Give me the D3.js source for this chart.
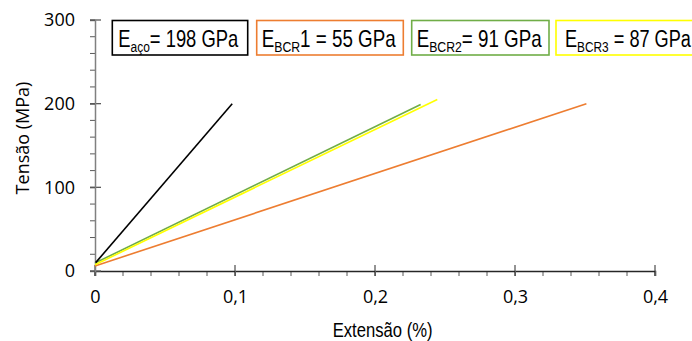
<!DOCTYPE html>
<html><head><meta charset="utf-8">
<script src="https://cdn.jsdelivr.net/npm/d3@7"></script>
<style>body{margin:0;background:#fff}svg{display:block}</style>
</head><body><svg id="c" width="692" height="341"></svg>
<script>
const xTicks = [0, 0.1, 0.2, 0.3, 0.4];
const xTickLabels = ["0", "0,1", "0,2", "0,3", "0,4"];
const yTicks = [0, 100, 200, 300];
const seriesNames = ["aco", "BCR1", "BCR2", "BCR3"];
const acoX = [0.0005, 0.098], acoY = [10, 200];
const bcr1X = [0, 0.351], bcr1Y = [6, 200];
const bcr2X = [0, 0.2326], bcr2Y = [9.5, 199];
const bcr3X = [0, 0.2445], bcr3Y = [7.5, 205];
const legendMain = ["E", "E", "E", "E"];
const legendSub = ["aço", "BCR", "BCR2", "BCR3"];
const legendRest = ["= 198 GPa", "1 = 55 GPa", "= 91 GPa", " = 87 GPa"];
const colors = ["#000000", "#ED7D31", "#70AD47", "#FFFF00"];

const svg = d3.select("#c");
const x = d3.scaleLinear().domain([0, 0.4]).range([95, 655]);
const y = d3.scaleLinear().domain([0, 300]).range([271, 20]);
const tickFont = "'Open Sans', sans-serif";
const narrow = "'Liberation Sans', Arial, sans-serif";

function narrowText(parent, x0, baseline, targetW, anchor, build) {
  const g = parent.append("g");
  const t = g.append("text").attr("x", 0).attr("y", 0)
    .attr("font-family", narrow).attr("fill", "#000");
  build(t);
  const w = t.node().getComputedTextLength();
  const s = targetW / w;
  const left = anchor === "middle" ? x0 - targetW / 2 : x0;
  g.attr("transform", `translate(${left},${baseline}) scale(${s},1)`);
  return g;
}

const xMinor = d3.range(0, 0.4001, 0.02);
svg.append("g").selectAll("line").data(xMinor).join("line")
  .attr("x1", d => x(d)).attr("x2", d => x(d)).attr("y1", 271).attr("y2", 276)
  .attr("stroke", "#595959").attr("stroke-width", 1);
svg.append("g").selectAll("line").data(xTicks).join("line")
  .attr("x1", d => x(d)).attr("x2", d => x(d)).attr("y1", 265).attr("y2", 276)
  .attr("stroke", "#595959").attr("stroke-width", 1.3);
const gx = svg.append("g").attr("transform", "translate(0,271)")
  .call(d3.axisBottom(x).tickValues(xTicks).tickSize(5).tickPadding(14)
    .tickFormat((d, i) => xTickLabels[i]));
gx.select(".domain").attr("stroke", "#262626").attr("stroke-width", 1.5);
gx.selectAll(".tick line").attr("stroke", "#595959");
gx.selectAll("text").attr("font-family", tickFont).attr("font-size", 18).attr("fill", "#000");

const yMinor = d3.range(0, 300.1, 20);
svg.append("g").selectAll("line").data(yMinor).join("line")
  .attr("y1", d => y(d)).attr("y2", d => y(d)).attr("x1", 90).attr("x2", 95)
  .attr("stroke", "#595959").attr("stroke-width", 1);
svg.append("g").selectAll("line").data(yTicks).join("line")
  .attr("y1", d => y(d)).attr("y2", d => y(d)).attr("x1", 90).attr("x2", 101)
  .attr("stroke", "#595959").attr("stroke-width", 1.3);
const gy = svg.append("g").attr("transform", "translate(95,0)")
  .call(d3.axisLeft(y).tickValues(yTicks).tickSize(5).tickPadding(15));
gy.select(".domain").attr("stroke", "#808080").attr("stroke-width", 1.5);
gy.selectAll(".tick line").attr("stroke", "#595959");
gy.selectAll("text").attr("font-family", tickFont).attr("font-size", 18).attr("fill", "#000");

narrowText(svg, 382.7, 337, 100, "middle", t => t.attr("font-size", 21).text("Extensão (%)"));
svg.append("text").attr("transform", "translate(29,138) rotate(-90)").attr("text-anchor", "middle")
  .attr("font-family", tickFont).attr("font-size", 18).text("Tensão (MPa)");

const seriesX = [acoX, bcr1X, bcr2X, bcr3X];
const seriesY = [acoY, bcr1Y, bcr2Y, bcr3Y];
const line = d3.line().x(d => x(d[0])).y(d => y(d[1]));
const drawOrder = [1, 2, 3, 0];
drawOrder.forEach(i => {
  const pts = seriesX[i].map((v, k) => [v, seriesY[i][k]]);
  svg.append("path").attr("d", line(pts)).attr("fill", "none")
    .attr("stroke", colors[i]).attr("stroke-width", 1.6);
});

const boxLeft = [112.3, 256.7, 411.7, 556];
const boxRight = [247.7, 403.3, 549, 702];
const textLeft = [118.3, 261.7, 416.7, 565];
const textW = [120, 134, 125, 126];
seriesNames.forEach((n, i) => {
  svg.append("rect").attr("x", boxLeft[i]).attr("y", 20.5)
    .attr("width", boxRight[i] - boxLeft[i]).attr("height", 34.5)
    .attr("fill", "#fff").attr("stroke", colors[i]).attr("stroke-width", 1.6);
  narrowText(svg, textLeft[i], 46.7, textW[i], "start", t => {
    t.attr("font-size", 23).attr("font-weight", 300);
    t.append("tspan").text(legendMain[i]);
    t.append("tspan").attr("font-size", 15).attr("dy", 5).text(legendSub[i]);
    t.append("tspan").attr("dy", -5).text(legendRest[i]);
  });
});
</script></body></html>
